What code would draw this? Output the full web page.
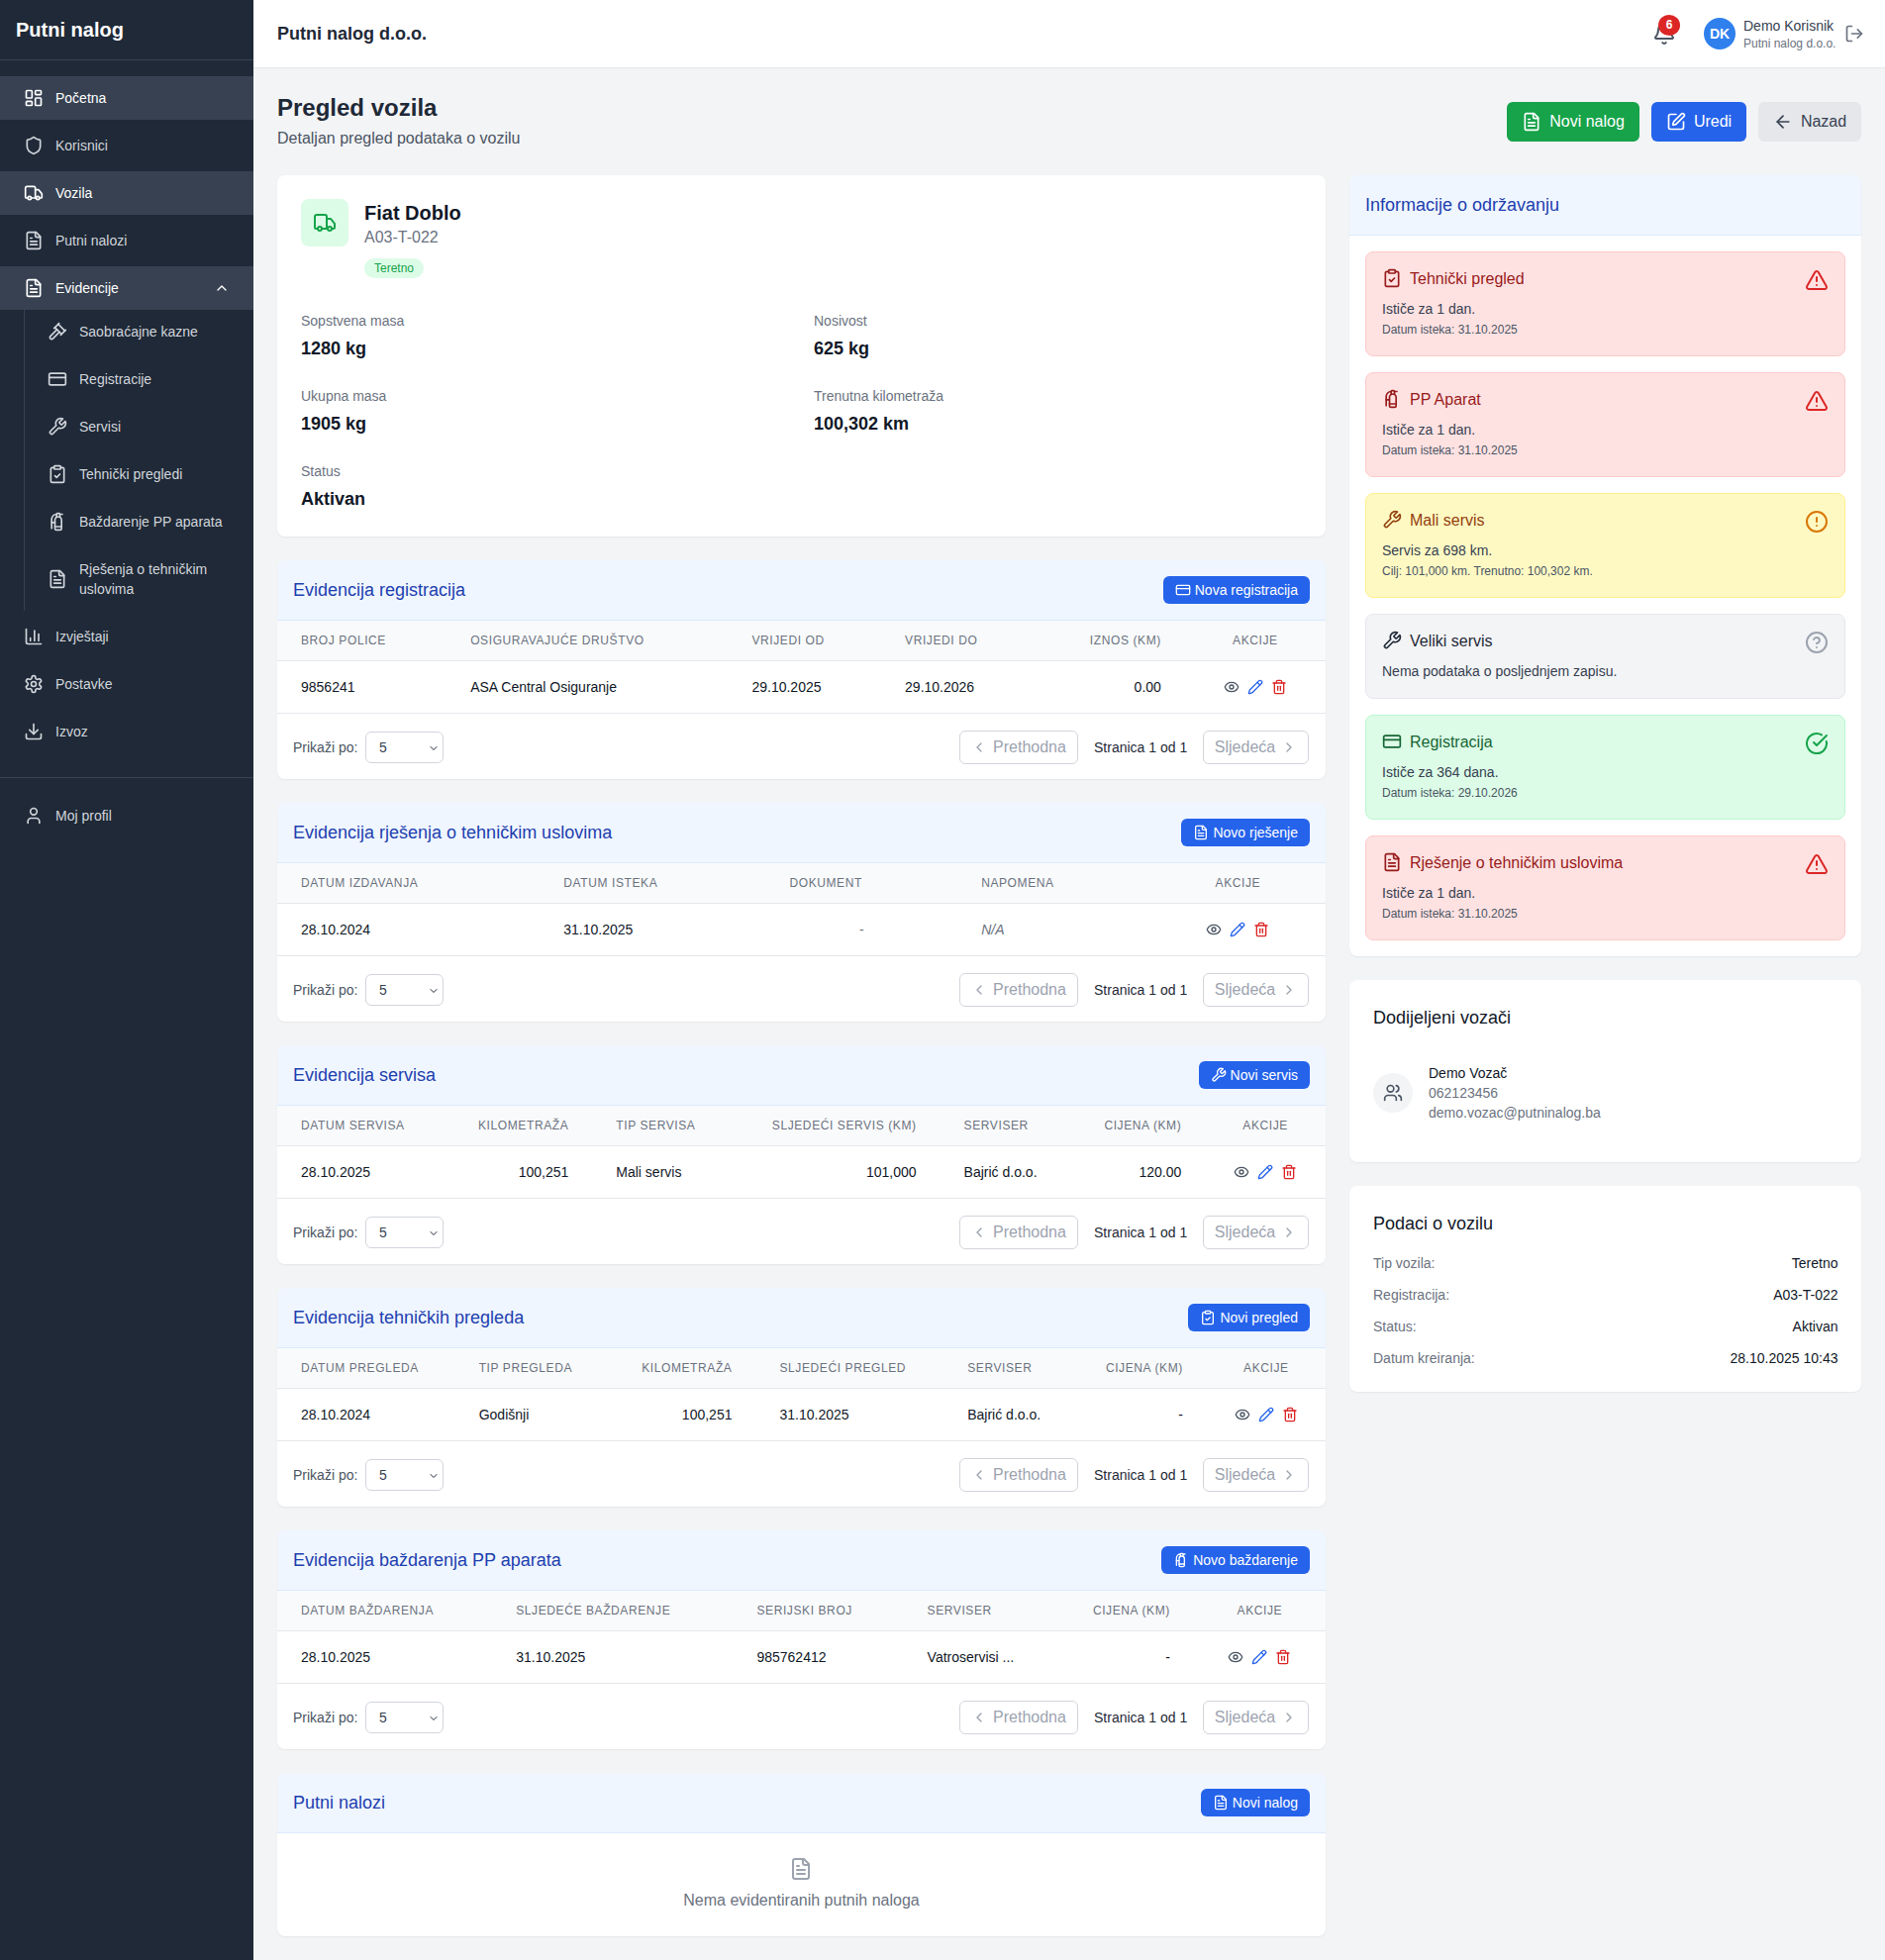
<!DOCTYPE html>
<html lang="bs"><head><meta charset="utf-8"><title>Pregled vozila</title>
<script src="https://cdn.jsdelivr.net/npm/chart.js@4"></script>
<style>
*{box-sizing:border-box}
html,body{margin:0;padding:0}
body{width:1904px;height:1980px;position:relative;overflow:hidden;background:#f3f4f6;font-family:"Liberation Sans",Arial,sans-serif;color:#111827;font-size:14px;line-height:20px}
svg.i{fill:none;stroke:currentColor;stroke-width:2;stroke-linecap:round;stroke-linejoin:round;flex:none;display:block}
.abs{position:absolute}
#side{left:0;top:0;width:256px;height:1980px;background:#1f2937;color:#d1d5db}
#side .logo{position:absolute;left:16px;top:16px;font-size:20px;line-height:28px;font-weight:700;color:#fff}
#side .rule{position:absolute;left:0;width:256px;height:1px;background:#374151}
.nav{position:absolute;left:0;width:256px;height:44px;display:flex;align-items:center;padding-left:24px;gap:12px}
.nav.on{background:#374151;color:#fff}
.nav.sub{left:48px;width:200px;padding-left:0;gap:12px}
.nav .chev{position:absolute;left:216px;top:14px}
#sbar{position:absolute;left:24px;top:313px;width:1px;height:304px;background:#374151}
#top{left:256px;top:0;width:1648px;height:69px;background:#fff;border-bottom:1px solid #e5e7eb}
.btn{position:absolute;display:flex;align-items:center;justify-content:center;border-radius:6px;color:#fff;font-size:16px;gap:8px}
.card{position:absolute;background:#fff;border-radius:8px;box-shadow:0 1px 2px rgba(0,0,0,.06);overflow:hidden}
.hd{height:61px;background:#eff6ff;border-bottom:1px solid #dbeafe;position:relative}
.hd .t{position:absolute;left:16px;top:16px;font-size:18px;line-height:28px;color:#1e40af}
.add{position:absolute;right:16px;top:16px;height:28px;background:#2563eb;color:#fff;border-radius:6px;display:flex;align-items:center;padding:0 12px;gap:4px;font-size:14px}
table{border-collapse:collapse;table-layout:fixed;width:100%}
th{height:40px;background:#f9fafb;border-bottom:1px solid #e5e7eb;padding:0 24px;font-size:12px;line-height:16px;font-weight:400;letter-spacing:.6px;color:#6b7280;text-align:left;white-space:nowrap;text-transform:uppercase}
td{height:53px;border-bottom:1px solid #e5e7eb;padding:0 24px;font-size:14px;color:#111827;white-space:nowrap}
.r{text-align:right}.c{text-align:center}
.acts{display:flex;justify-content:center;gap:8px}
.ft{position:absolute;left:0;top:154px;width:100%;height:67px}
.ft>*{position:absolute}
.sel{left:89px;top:18px;width:79px;height:32px;border:1px solid #d1d5db;border-radius:6px;background:#fff;padding-left:13px;line-height:30px;color:#374151}
.pg{top:17px;height:34px;border:1px solid #d1d5db;border-radius:6px;color:#9ca3af;font-size:16px;display:flex;align-items:center;justify-content:center;gap:6px;background:#fff}
.al{position:absolute;left:16px;width:485px;border-radius:8px;border:1px solid}
.al>*{position:absolute}
</style></head><body>
<div id="side" class="abs"></div>
<div id="top" class="abs"></div>
<div id="main"></div>
<script>
const icons={
dash:'<rect x="3" y="3" width="7" height="9" rx="1"/><rect x="14" y="3" width="7" height="5" rx="1"/><rect x="14" y="12" width="7" height="9" rx="1"/><rect x="3" y="16" width="7" height="5" rx="1"/>',
shield:'<path d="M20 13c0 5-3.5 7.5-7.66 8.95a1 1 0 0 1-.67-.01C7.5 20.5 4 18 4 13V6a1 1 0 0 1 1-1c2 0 4.5-1.2 6.24-2.72a1.17 1.17 0 0 1 1.52 0C14.51 3.81 17 5 19 5a1 1 0 0 1 1 1z"/>',
truck:'<path d="M14 18V6a2 2 0 0 0-2-2H4a2 2 0 0 0-2 2v11a1 1 0 0 0 1 1h2"/><path d="M15 18H9"/><path d="M19 18h2a1 1 0 0 0 1-1v-3.65a1 1 0 0 0-.22-.624l-3.48-4.35A1 1 0 0 0 17.52 8H14"/><circle cx="17" cy="18" r="2"/><circle cx="7" cy="18" r="2"/>',
file:'<path d="M15 2H6a2 2 0 0 0-2 2v16a2 2 0 0 0 2 2h12a2 2 0 0 0 2-2V7Z"/><path d="M14 2v4a2 2 0 0 0 2 2h4"/><path d="M10 9H8"/><path d="M16 13H8"/><path d="M16 17H8"/>',
up:'<path d="m18 15-6-6-6 6"/>',
gavel:'<path d="m14.5 12.5-8 8a2.119 2.119 0 1 1-3-3l8-8"/><path d="m16 16 6-6"/><path d="m8 8 6-6"/><path d="m9 7 8 8"/><path d="m21 11-8-8"/>',
card:'<rect width="20" height="14" x="2" y="5" rx="2"/><line x1="2" x2="22" y1="10" y2="10"/>',
wrench:'<path d="M14.7 6.3a1 1 0 0 0 0 1.4l1.6 1.6a1 1 0 0 0 1.4 0l3.77-3.77a6 6 0 0 1-7.94 7.94l-6.91 6.91a2.12 2.12 0 0 1-3-3l6.91-6.91a6 6 0 0 1 7.94-7.94l-3.76 3.76z"/>',
clip:'<rect width="8" height="4" x="8" y="2" rx="1"/><path d="M16 4h2a2 2 0 0 1 2 2v14a2 2 0 0 1-2 2H6a2 2 0 0 1-2-2V6a2 2 0 0 1 2-2h2"/><path d="m9 14 2 2 4-4"/>',
fire:'<path d="M15 6.5V3a1 1 0 0 0-1-1h-2a1 1 0 0 0-1 1v3.5"/><path d="M9 18h8"/><path d="M18 3h-3"/><path d="M11 3a6 6 0 0 0-6 6v11"/><path d="M5 13h4"/><path d="M17 10a4 4 0 0 0-8 0v10a2 2 0 0 0 2 2h4a2 2 0 0 0 2-2Z"/>',
bars:'<path d="M3 3v16a2 2 0 0 0 2 2h16"/><path d="M18 17V9"/><path d="M13 17V5"/><path d="M8 17v-3"/>',
gear:'<path d="M12.22 2h-.44a2 2 0 0 0-2 2v.18a2 2 0 0 1-1 1.73l-.43.25a2 2 0 0 1-2 0l-.15-.08a2 2 0 0 0-2.73.73l-.22.38a2 2 0 0 0 .73 2.73l.15.1a2 2 0 0 1 1 1.72v.51a2 2 0 0 1-1 1.74l-.15.09a2 2 0 0 0-.73 2.73l.22.38a2 2 0 0 0 2.73.73l.15-.08a2 2 0 0 1 2 0l.43.25a2 2 0 0 1 1 1.73V20a2 2 0 0 0 2 2h.44a2 2 0 0 0 2-2v-.18a2 2 0 0 1 1-1.73l.43-.25a2 2 0 0 1 2 0l.15.08a2 2 0 0 0 2.73-.73l.22-.39a2 2 0 0 0-.73-2.73l-.15-.08a2 2 0 0 1-1-1.74v-.5a2 2 0 0 1 1-1.74l.15-.09a2 2 0 0 0 .73-2.73l-.22-.38a2 2 0 0 0-2.73-.73l-.15.08a2 2 0 0 1-2 0l-.43-.25a2 2 0 0 1-1-1.73V4a2 2 0 0 0-2-2z"/><circle cx="12" cy="12" r="3"/>',
down:'<path d="M21 15v4a2 2 0 0 1-2 2H5a2 2 0 0 1-2-2v-4"/><polyline points="7 10 12 15 17 10"/><line x1="12" x2="12" y1="15" y2="3"/>',
user:'<path d="M19 21v-2a4 4 0 0 0-4-4H9a4 4 0 0 0-4 4v2"/><circle cx="12" cy="7" r="4"/>',
bell:'<path d="M10.268 21a2 2 0 0 0 3.464 0"/><path d="M3.262 15.326A1 1 0 0 0 4 17h16a1 1 0 0 0 .74-1.673C19.41 13.956 18 12.499 18 8A6 6 0 0 0 6 8c0 4.499-1.411 5.956-2.738 7.326"/>',
out:'<path d="M9 21H5a2 2 0 0 1-2-2V5a2 2 0 0 1 2-2h4"/><polyline points="16 17 21 12 16 7"/><line x1="21" x2="9" y1="12" y2="12"/>',
pen:'<path d="M12 3H5a2 2 0 0 0-2 2v14a2 2 0 0 0 2 2h14a2 2 0 0 0 2-2v-7"/><path d="M18.375 2.625a1 1 0 0 1 3 3l-9.013 9.014a2 2 0 0 1-.853.505l-2.873.84a.5.5 0 0 1-.62-.62l.84-2.873a2 2 0 0 1 .506-.852z"/>',
back:'<path d="m12 19-7-7 7-7"/><path d="M19 12H5"/>',
warn:'<path d="m21.73 18-8-14a2 2 0 0 0-3.48 0l-8 14A2 2 0 0 0 4 21h16a2 2 0 0 0 1.73-3"/><path d="M12 9v4"/><path d="M12 17h.01"/>',
alert:'<circle cx="12" cy="12" r="10"/><line x1="12" x2="12" y1="8" y2="12"/><line x1="12" x2="12.01" y1="16" y2="16"/>',
help:'<circle cx="12" cy="12" r="10"/><path d="M9.09 9a3 3 0 0 1 5.83 1c0 2-3 3-3 3"/><path d="M12 17h.01"/>',
ok:'<path d="M21.801 10A10 10 0 1 1 17 3.335"/><path d="m9 11 3 3L22 4"/>',
users:'<path d="M16 21v-2a4 4 0 0 0-4-4H6a4 4 0 0 0-4 4v2"/><circle cx="9" cy="7" r="4"/><path d="M22 21v-2a4 4 0 0 0-3-3.87"/><path d="M16 3.13a4 4 0 0 1 0 7.75"/>',
eye:'<path d="M2.062 12.348a1 1 0 0 1 0-.696 10.75 10.75 0 0 1 19.876 0 1 1 0 0 1 0 .696 10.75 10.75 0 0 1-19.876 0"/><circle cx="12" cy="12" r="3"/>',
pencil:'<path d="M21.174 6.812a1 1 0 0 0-3.986-3.987L3.842 16.174a2 2 0 0 0-.5.83l-1.321 4.352a.5.5 0 0 0 .623.622l4.353-1.32a2 2 0 0 0 .83-.497z"/><path d="m15 5 4 4"/>',
trash:'<path d="M3 6h18"/><path d="M19 6v14c0 1-1 2-2 2H7c-1 0-2-1-2-2V6"/><path d="M8 6V4c0-1 1-2 2-2h4c1 0 2 1 2 2v2"/><line x1="10" x2="10" y1="11" y2="17"/><line x1="14" x2="14" y1="11" y2="17"/>',
left:'<path d="m15 18-6-6 6-6"/>',right:'<path d="m9 18 6-6-6-6"/>'};
const svg=(n,s,c,w)=>`<svg class="i" width="${s}" height="${s}" viewBox="0 0 24 24"${c?` style="color:${c}"`:''}${w?` stroke-width="${w}"`:''}>${icons[n]}</svg>`;

const navMain=[['dash','Početna',77,1],['shield','Korisnici',125,0],['truck','Vozila',173,1],['file','Putni nalozi',221,0],['file','Evidencije',269,1]];
const navSub=[['gavel','Saobraćajne kazne',313],['card','Registracije',361],['wrench','Servisi',409],['clip','Tehnički pregledi',457],['fire','Baždarenje PP aparata',505],['file','Rješenja o tehničkim<br>uslovima',563]];
const navLow=[['bars','Izvještaji',621],['gear','Postavke',669],['down','Izvoz',717],['user','Moj profil',802]];

const vehicleName='Fiat Doblo',vehiclePlate='A03-T-022',vehicleType='Teretno';
const vehicleFacts=[['Sopstvena masa','1280 kg',304,314],['Nosivost','625 kg',822,314],['Ukupna masa','1905 kg',304,390],['Trenutna kilometraža','100,302 km',822,390],['Status','Aktivan',304,466]];

const regCols=[171,284,154.5,186.5,120,142],regHead=['Broj police','Osiguravajuće društvo','Vrijedi od','Vrijedi do','Iznos (KM)','Akcije'],regRow=['9856241','ASA Central Osiguranje','29.10.2025','29.10.2026','0.00'];
const resCols=[265,228,193.5,194.5,177],resHead=['Datum izdavanja','Datum isteka','Dokument','Napomena','Akcije'],resRow=['28.10.2024','31.10.2025','-','N/A'];
const srvCols=[178,140,157,194,141,126.5,121.5],srvHead=['Datum servisa','Kilometraža','Tip servisa','Sljedeći servis (KM)','Serviser','Cijena (KM)','Akcije'],srvRow=['28.10.2025','100,251','Mali servis','101,000','Bajrić d.o.o.','120.00'];
const tehCols=[179.5,163.5,140,189.6,139.4,126,120],tehHead=['Datum pregleda','Tip pregleda','Kilometraža','Sljedeći pregled','Serviser','Cijena (KM)','Akcije'],tehRow=['28.10.2024','Godišnji','100,251','31.10.2025','Bajrić d.o.o.','-'];
const bazCols=[217,243,172,167,126,133],bazHead=['Datum baždarenja','Sljedeće baždarenje','Serijski broj','Serviser','Cijena (KM)','Akcije'],bazRow=['28.10.2025','31.10.2025','985762412','Vatroservisi ...','-'];

const sections=[
{t:'Evidencija registracija',a:'Nova registracija',ic:'card',y:566,cols:regCols,head:regHead,row:regRow,al:{4:'r',5:'c'}},
{t:'Evidencija rješenja o tehničkim uslovima',a:'Novo rješenje',ic:'file',y:811,cols:resCols,head:resHead,row:resRow,al:{4:'c'},tdc:{2:'c'}},
{t:'Evidencija servisa',a:'Novi servis',ic:'wrench',y:1056,cols:srvCols,head:srvHead,row:srvRow,al:{1:'r',3:'r',5:'r',6:'c'}},
{t:'Evidencija tehničkih pregleda',a:'Novi pregled',ic:'clip',y:1301,cols:tehCols,head:tehHead,row:tehRow,al:{2:'r',5:'r',6:'c'}},
{t:'Evidencija baždarenja PP aparata',a:'Novo baždarenje',ic:'fire',y:1546,cols:bazCols,head:bazHead,row:bazRow,al:{4:'r',5:'c'}}];

const alerts=[
{y:254,h:106,k:'r',ic:'clip',t:'Tehnički pregled',d:'Ističe za 1 dan.',s:'Datum isteka: 31.10.2025',st:'warn'},
{y:376,h:106,k:'r',ic:'fire',t:'PP Aparat',d:'Ističe za 1 dan.',s:'Datum isteka: 31.10.2025',st:'warn'},
{y:498,h:106,k:'y',ic:'wrench',t:'Mali servis',d:'Servis za 698 km.',s:'Cilj: 101,000 km. Trenutno: 100,302 km.',st:'alert'},
{y:620,h:86,k:'g',ic:'wrench',t:'Veliki servis',d:'Nema podataka o posljednjem zapisu.',s:'',st:'help'},
{y:722,h:106,k:'n',ic:'card',t:'Registracija',d:'Ističe za 364 dana.',s:'Datum isteka: 29.10.2026',st:'ok'},
{y:844,h:106,k:'r',ic:'file',t:'Rješenje o tehničkim uslovima',d:'Ističe za 1 dan.',s:'Datum isteka: 31.10.2025',st:'warn'}];
const alertTone={r:['#fee2e2','#fecaca','#991b1b','#dc2626'],y:['#fef9c3','#fef08a','#92400e','#d97706'],g:['#f3f4f6','#e5e7eb','#1f2937','#9ca3af'],n:['#dcfce7','#bbf7d0','#166534','#16a34a']};

const driverLines=['Demo Vozač','062123456','demo.vozac@putninalog.ba'];
const vehicleInfoKeys=['Tip vozila:','Registracija:','Status:','Datum kreiranja:'];
const vehicleInfoVals=['Teretno','A03-T-022','Aktivan','28.10.2025 10:43'];
const pageSizes=['5'];

/* sidebar */
let h='<div class="logo">Putni nalog</div><div class="rule" style="top:60px"></div><div class="rule" style="top:785px"></div><div id="sbar"></div>';
navMain.forEach(n=>h+=`<div class="nav${n[3]?' on':''}" style="top:${n[2]}px">${svg(n[0],20,'',1.6)}<span>${n[1]}</span>${n[1]=='Evidencije'?`<span class="chev">${svg('up',16,'',2)}</span>`:''}</div>`);
navSub.forEach(n=>h+=`<div class="nav sub" style="top:${n[2]}px">${svg(n[0],20,'',1.6)}<span>${n[1]}</span></div>`);
navLow.forEach(n=>h+=`<div class="nav" style="top:${n[2]}px">${svg(n[0],20,'',1.6)}<span>${n[1]}</span></div>`);
document.getElementById('side').innerHTML=h;

/* top bar */
document.getElementById('top').innerHTML=`
<div class="abs" style="left:24px;top:20px;font-size:18px;line-height:28px;font-weight:700;color:#1f2937">Putni nalog d.o.o.</div>
<div class="abs" style="left:1413px;top:22px;color:#4b5563">${svg('bell',24,'',1.7)}</div>
<div class="abs" style="left:1419px;top:15px;width:22px;height:21px;border-radius:50%;background:#dc2626;color:#fff;font-size:12px;line-height:21px;text-align:center;font-weight:700">6</div>
<div class="abs" style="left:1465px;top:18px;width:32px;height:32px;border-radius:50%;background:#2f80ed;color:#fff;font-size:14px;line-height:32px;text-align:center;font-weight:700">DK</div>
<div class="abs" style="left:1505px;top:16px;color:#374151">Demo Korisnik</div>
<div class="abs" style="left:1505px;top:36px;font-size:12px;line-height:16px;color:#6b7280">Putni nalog d.o.o.</div>
<div class="abs" style="left:1607px;top:24px;color:#6b7280">${svg('out',20,'',1.6)}</div>`;

/* page */
let m=`<div class="abs" style="left:280px;top:93px;font-size:24px;line-height:32px;font-weight:700;color:#1f2937">Pregled vozila</div>
<div class="abs" style="left:280px;top:128px;font-size:16px;line-height:24px;color:#4b5563">Detaljan pregled podataka o vozilu</div>
<div class="btn" style="left:1522px;top:103px;width:134px;height:40px;background:#16a34a">${svg('file',20,'',1.7)}<span>Novi nalog</span></div>
<div class="btn" style="left:1668px;top:103px;width:96px;height:40px;background:#2563eb">${svg('pen',20,'',1.7)}<span>Uredi</span></div>
<div class="btn" style="left:1776px;top:103px;width:104px;height:40px;background:#e5e7eb;color:#374151">${svg('back',20,'',1.7)}<span>Nazad</span></div>`;

m+=`<div class="card" style="left:280px;top:177px;width:1059px;height:365px"></div>
<div class="abs" style="left:304px;top:201px;width:48px;height:48px;border-radius:8px;background:#dcfce7;color:#16a34a;display:flex;align-items:center;justify-content:center">${svg('truck',24,'',2)}</div>
<div class="abs" style="left:368px;top:201px;font-size:20px;line-height:28px;font-weight:700;color:#111827">${vehicleName}</div>
<div class="abs" style="left:368px;top:228px;font-size:16px;line-height:24px;color:#6b7280">${vehiclePlate}</div>
<div class="abs" style="left:368px;top:261px;height:20px;width:60px;border-radius:10px;background:#dcfce7;color:#16a34a;font-size:12px;line-height:20px;text-align:center">${vehicleType}</div>`;
vehicleFacts.forEach(f=>m+=`<div class="abs" style="left:${f[2]}px;top:${f[3]}px;color:#6b7280">${f[0]}</div><div class="abs" style="left:${f[2]}px;top:${f[3]+24}px;font-size:18px;line-height:28px;font-weight:700;color:#111827">${f[1]}</div>`);

const actions=`<div class="acts">${svg('eye',16,'#4b5563')}${svg('pencil',16,'#2563eb')}${svg('trash',16,'#dc2626')}</div>`;
sections.forEach(s=>{
 const n=s.head.length;
 m+=`<div class="card" style="left:280px;top:${s.y}px;width:1059px;height:221px">
 <div class="hd"><div class="t">${s.t}</div><div class="add">${svg(s.ic,16)}<span>${s.a}</span></div></div>
 <table><colgroup>${s.cols.map(w=>`<col style="width:${w}px">`).join('')}</colgroup>
 <thead><tr>${s.head.map((x,i)=>`<th class="${s.al[i]||''}">${x}</th>`).join('')}</tr></thead>
 <tbody><tr>${s.row.map((x,i)=>{const cl=(s.tdc&&s.tdc[i])||s.al[i]||'';const st=x=='N/A'?' style="font-style:italic;color:#6b7280"':x=='-'&&cl=='c'?' style="color:#6b7280"':'';return `<td class="${cl}"${st}>${x}</td>`}).join('')}<td>${actions}</td></tr></tbody></table>
 <div class="ft" style="top:155px"><div style="left:16px;top:24px;color:#4b5563">Prikaži po:</div>
 <div class="sel">${pageSizes[0]}<svg class="i" style="position:absolute;right:3px;top:10px;color:#1f2937" width="12" height="12" viewBox="0 0 24 24" stroke-width="4"><path d="m6 9 6 6 6-6"/></svg></div>
 <div class="pg" style="left:689px;width:120px">${svg('left',16)}<span>Prethodna</span></div>
 <div style="left:825px;top:24px;color:#1f2937">Stranica 1 od 1</div>
 <div class="pg" style="left:935px;width:107px"><span>Sljedeća</span>${svg('right',16)}</div></div></div>`;
});
m+=`<div class="card" style="left:280px;top:1791px;width:1059px;height:165px"><div class="hd"><div class="t">Putni nalozi</div><div class="add">${svg('file',16)}<span>Novi nalog</span></div></div>
<div class="abs" style="left:517px;top:85px;color:#9ca3af">${svg('file',24,'',2)}</div>
<div class="abs" style="left:0;width:1059px;top:117px;text-align:center;font-size:16px;line-height:24px;color:#6b7280">Nema evidentiranih putnih naloga</div></div>`;

m+=`<div class="card" style="left:1363px;top:177px;width:517px;height:789px"><div class="hd"><div class="t" style="color:#1e40af">Informacije o održavanju</div></div>`;
alerts.forEach(a=>{const c=alertTone[a.k];
 m+=`<div class="al" style="top:${a.y-177}px;height:${a.h}px;background:${c[0]};border-color:${c[1]}">
 <div style="left:16px;top:16px;color:${c[2]}">${svg(a.ic,20,'',1.8)}</div>
 <div style="left:44px;top:15px;font-size:16px;line-height:24px;color:${c[2]}">${a.t}</div>
 <div style="left:16px;top:47px;color:#374151">${a.d}</div>
 ${a.s?`<div style="left:16px;top:70px;font-size:12px;line-height:16px;color:#4b5563">${a.s}</div>`:''}
 <div style="right:16px;top:16px;color:${c[3]}">${svg(a.st,24,'',1.8)}</div></div>`;});
m+=`</div>`;

m+=`<div class="card" style="left:1363px;top:990px;width:517px;height:184px"></div>
<div class="abs" style="left:1387px;top:1014px;font-size:18px;line-height:28px;color:#111827">Dodijeljeni vozači</div>
<div class="abs" style="left:1387px;top:1084px;width:40px;height:40px;border-radius:50%;background:#f3f4f6;color:#4b5563;display:flex;align-items:center;justify-content:center">${svg('users',20,'',1.7)}</div>`;
driverLines.forEach((l,i)=>m+=`<div class="abs" style="left:1443px;top:${1074+20*i}px;color:${i?'#6b7280':'#111827'}">${l}</div>`);
m+=`<div class="card" style="left:1363px;top:1198px;width:517px;height:208px"></div>
<div class="abs" style="left:1387px;top:1222px;font-size:18px;line-height:28px;color:#111827">Podaci o vozilu</div>`;
vehicleInfoKeys.forEach((k,i)=>m+=`<div class="abs" style="left:1387px;top:${1266+32*i}px;color:#6b7280">${k}</div><div class="abs" style="right:47.5px;top:${1266+32*i}px;color:#111827">${vehicleInfoVals[i]}</div>`);
document.getElementById('main').innerHTML=m;
</script>
</body></html>
